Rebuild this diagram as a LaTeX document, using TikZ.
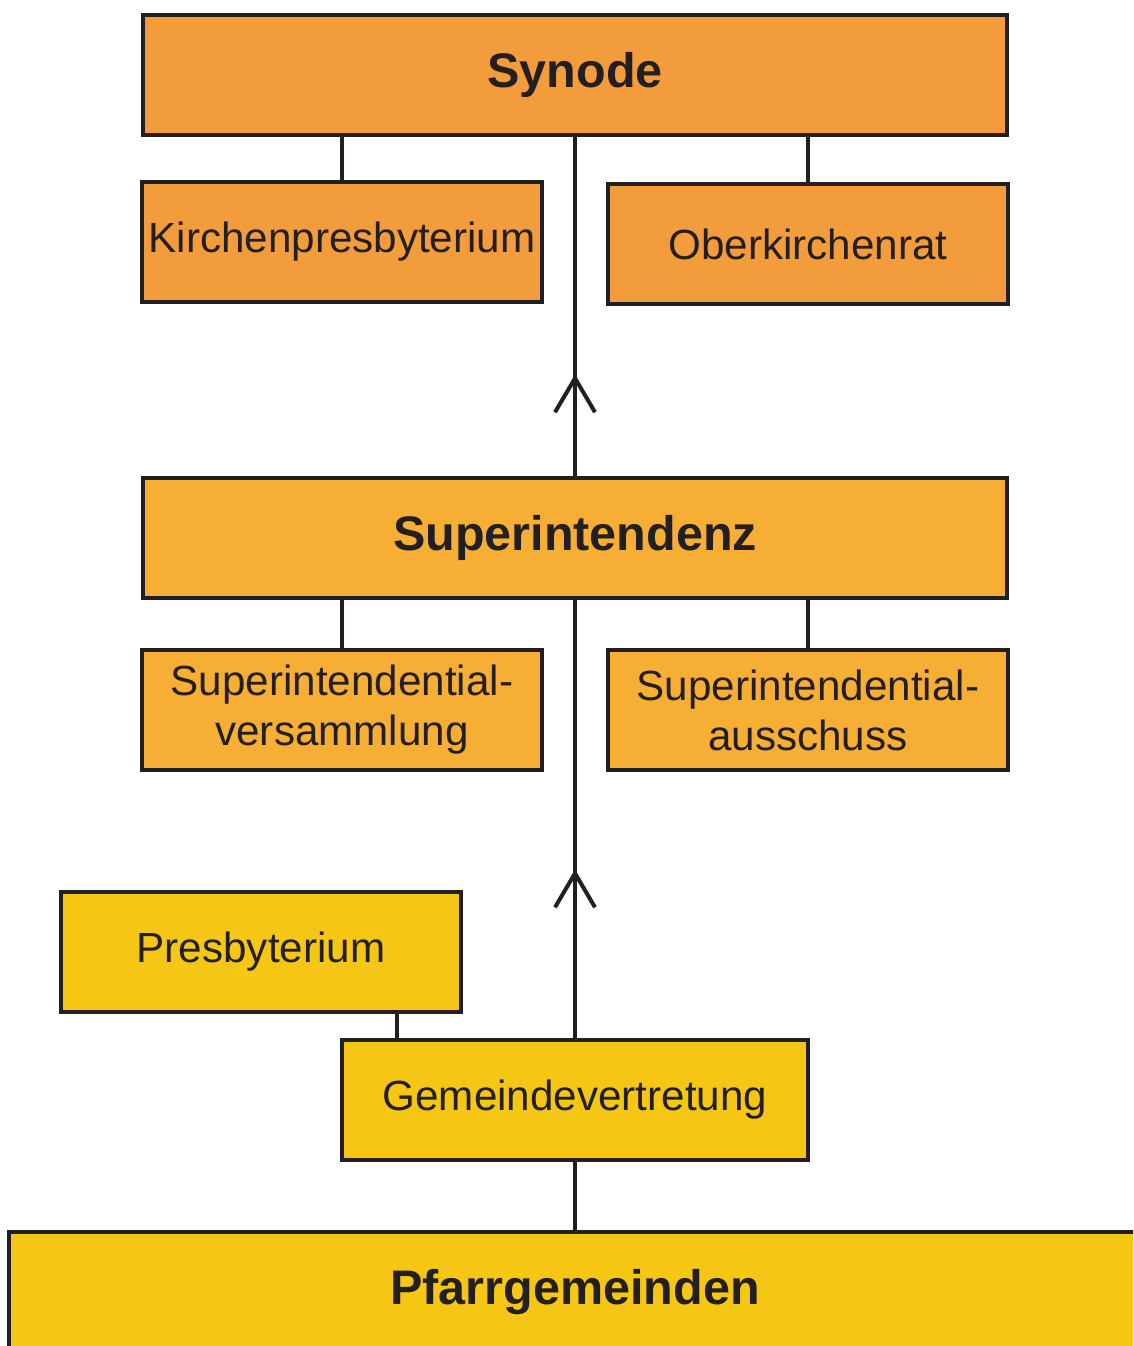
\documentclass[tikz,border=0pt]{standalone}
\usepackage{fontspec}
\setmainfont{Liberation Sans}
\usetikzlibrary{arrows.meta}
\usetikzlibrary{decorations.markings}
\definecolor{synodeorange}{HTML}{F39C3B}
\definecolor{superorange}{HTML}{F7AE35}
\definecolor{gemeindegelb}{HTML}{F5C613}
\definecolor{linegray}{HTML}{231F20}

\begin{document}
\begin{tikzpicture}[x=0.025cm,y=-0.025cm,
  box/.style={draw=linegray,line width=0.1cm,minimum height=3cm,inner sep=0pt,align=center,text=linegray,font=\fontsize{30}{35.5}\selectfont},
  bigbox/.style={box,minimum width=21.6cm,font=\fontsize{34.5}{40}\selectfont\bfseries},
  smallbox/.style={box,minimum width=10cm},
  link/.style={draw=linegray,line width=0.1cm},
  uplink/.style={link,decoration={markings,mark=at position #1 with {\arrow{Straight Barb[length=0.85cm,width=1cm]}}},postaction={decorate}}]
\clip (0,0) rectangle (1133,1346);
\node [bigbox,fill=synodeorange] (synode) at (575,75) {Synode};
\node [smallbox,fill=synodeorange] (kirchen) at (342,242) {Kirchenpresbyterium};
\node [smallbox,fill=synodeorange] (oberkirchen) at (808,244) {Oberkirchenrat};
\node [bigbox,fill=superorange] (superint) at (575,538) {Superintendenz};
\node [smallbox,fill=superorange] (versammlung) at (342,710) {Superintendential-\\versammlung};
\node [smallbox,fill=superorange] (ausschuss) at (808,710) {Superintendential-\\ausschuss};
\node [smallbox,fill=gemeindegelb] (presbyterium) at (261,952) {Presbyterium};
\node [box,minimum width=11.65cm,fill=gemeindegelb] (gemeinde) at (575,1100) {Gemeindevertretung};
\node [bigbox,minimum width=28.3cm,fill=gemeindegelb] (pfarr) at (575,1292) {Pfarrgemeinden};
\coordinate (pjoin) at (397,1012);
\draw [link] (kirchen.north) -- (kirchen.north |- synode.south);
\draw [link] (oberkirchen.north) -- (oberkirchen.north |- synode.south);
\draw [link] (versammlung.north) -- (versammlung.north |- superint.south);
\draw [link] (ausschuss.north) -- (ausschuss.north |- superint.south);
\draw [link] (pjoin) -- (pjoin |- gemeinde.north);
\draw [link] (pfarr.north) -- (gemeinde.south);
\draw [uplink=0.3] (superint.north) -- (synode.south);
\draw [uplink=0.385] (gemeinde.north) -- (superint.south);
\end{tikzpicture}
\end{document}
